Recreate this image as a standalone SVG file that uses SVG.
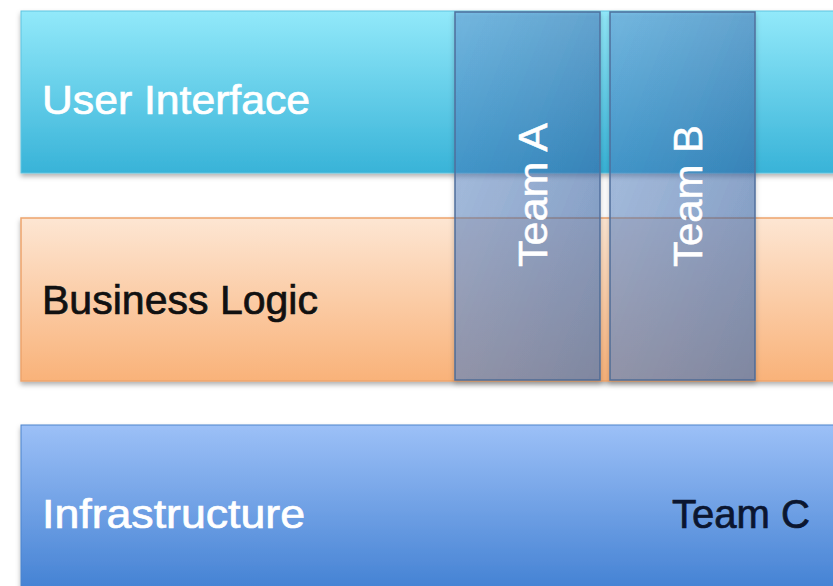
<svg xmlns="http://www.w3.org/2000/svg" width="833" height="586" viewBox="0 0 833 586">
  <style>
    .band-label { font-family: "Liberation Sans", Arial, sans-serif; font-size: 40px; stroke-width: 0.7px; }
    .team-label { font-family: "Liberation Sans", Arial, sans-serif; font-size: 40px; fill: #ffffff; stroke: #ffffff; stroke-width: 0.5px; }
    .col { fill: url(#colGrad); stroke: #4f6f9c; stroke-width: 1.5; }
    .tint { fill: #8ea4cc; fill-opacity: 0.35; }
  </style>
  <defs>
    <linearGradient id="uiGrad" x1="0" y1="0" x2="0" y2="1">
      <stop offset="0" stop-color="#92e9fa"/>
      <stop offset="1" stop-color="#38b3d8"/>
    </linearGradient>
    <linearGradient id="blGrad" x1="0" y1="0" x2="0" y2="1">
      <stop offset="0" stop-color="#fde6d3"/>
      <stop offset="1" stop-color="#f9b279"/>
    </linearGradient>
    <linearGradient id="infGrad" x1="0" y1="0" x2="0" y2="1">
      <stop offset="0" stop-color="#9cc0f7"/>
      <stop offset="1" stop-color="#3c7cd0"/>
    </linearGradient>
    <linearGradient id="colGrad" x1="0" y1="0" x2="1" y2="1">
      <stop offset="0" stop-color="#5a8ad0" stop-opacity="0.4"/>
      <stop offset="1" stop-color="#2d5a9c" stop-opacity="0.55"/>
    </linearGradient>
    <filter id="shadow" x="-5%" y="-10%" width="110%" height="130%">
      <feDropShadow dx="0" dy="3" stdDeviation="2.5" flood-color="#000" flood-opacity="0.3"/>
    </filter>
  </defs>

  <rect width="833" height="586" fill="#ffffff"/>

  <g id="user-interface">
    <rect x="21" y="11" width="830" height="162" fill="url(#uiGrad)" stroke="#5fc3e0" stroke-width="1" filter="url(#shadow)"/>
    <text class="band-label" x="42" y="114" fill="#ffffff" stroke="#ffffff" textLength="268" lengthAdjust="spacingAndGlyphs">User Interface</text>
  </g>

  <g id="business-logic">
    <rect x="21" y="218" width="830" height="163" fill="url(#blGrad)" stroke="#eda46c" stroke-width="1.5" filter="url(#shadow)"/>
    <text class="band-label" x="42" y="314" fill="#111111" stroke="#111111" textLength="276" lengthAdjust="spacingAndGlyphs">Business Logic</text>
  </g>

  <g id="infrastructure">
    <rect x="21" y="425" width="830" height="180" fill="url(#infGrad)" stroke="#4c84cc" stroke-width="1" filter="url(#shadow)"/>
    <text class="band-label" x="42" y="528" fill="#ffffff" stroke="#ffffff" textLength="263" lengthAdjust="spacingAndGlyphs">Infrastructure</text>
    <text class="band-label" x="672" y="528" fill="#0b1630" stroke="#0b1630" textLength="138" lengthAdjust="spacingAndGlyphs">Team C</text>
  </g>

  <g id="team-a">
    <rect class="col" x="455" y="12" width="145" height="368" filter="url(#shadow)"/>
    <rect class="tint" x="456" y="219" width="143" height="160"/>
    <text class="team-label" transform="translate(547,267) rotate(-90)" textLength="144" lengthAdjust="spacingAndGlyphs">Team A</text>
  </g>

  <g id="team-b">
    <rect class="col" x="610" y="12" width="145" height="368" filter="url(#shadow)"/>
    <rect class="tint" x="611" y="219" width="143" height="160"/>
    <text class="team-label" transform="translate(702,267) rotate(-90)" textLength="142" lengthAdjust="spacingAndGlyphs">Team B</text>
  </g>

  <g id="connectors"/>
</svg>
